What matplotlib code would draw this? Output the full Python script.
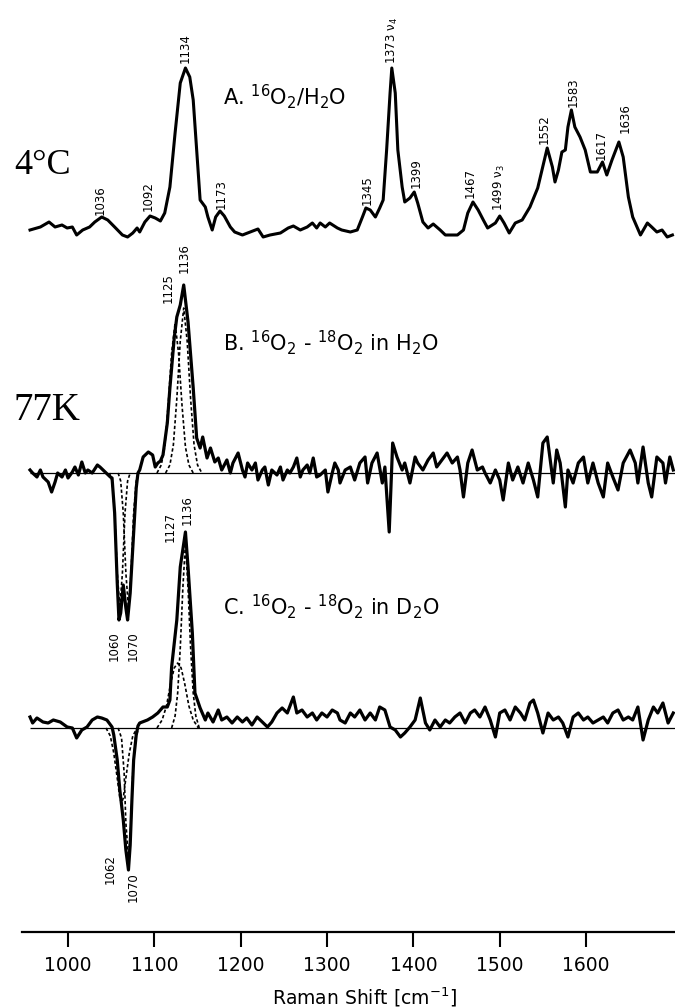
"""Raman spectra of 16O2/18O2 adducts: 4 C solution (A) and 77 K difference spectra (B, C)."""
import numpy as np
import matplotlib
matplotlib.use("Agg")
import matplotlib.pyplot as plt

plt.rcParams.update({"font.family": "DejaVu Sans", "mathtext.default": "regular"})

# ---- data (Raman shift in cm-1, intensity in arbitrary units) ----
spec_a = [(956, 10), (968, 13), (978, 18), (985, 13), (993, 15), (999, 12), (1005, 13), (1010, 5),
          (1017, 10), (1025, 13), (1031, 18), (1039, 23), (1046, 20), (1054, 13), (1063, 5), (1069, 3),
          (1075, 7), (1080, 12), (1083, 8), (1089, 18), (1095, 24), (1101, 22), (1107, 19), (1112, 27),
          (1118, 53), (1124, 107), (1130, 157), (1136, 172), (1141, 163), (1145, 140), (1149, 90),
          (1153, 40), (1159, 33), (1162, 23), (1167, 10), (1171, 23), (1176, 29), (1181, 24), (1188, 13),
          (1193, 8), (1202, 5), (1208, 7), (1220, 11), (1226, 3), (1234, 5), (1246, 7), (1255, 12),
          (1261, 14), (1269, 10), (1277, 13), (1283, 17), (1288, 12), (1292, 17), (1298, 13), (1303, 17),
          (1312, 12), (1317, 10), (1327, 8), (1335, 10), (1341, 23), (1345, 32), (1350, 30), (1356, 23),
          (1361, 32), (1365, 40), (1369, 90), (1373, 147), (1375, 172), (1379, 147), (1382, 90),
          (1387, 53), (1390, 38), (1396, 42), (1401, 48), (1405, 37), (1411, 18), (1417, 12), (1423, 16),
          (1431, 10), (1437, 5), (1451, 5), (1458, 10), (1463, 27), (1469, 38), (1475, 30), (1481, 20),
          (1486, 12), (1495, 17), (1500, 24), (1505, 17), (1511, 7), (1518, 17), (1526, 20), (1535, 33),
          (1544, 52), (1555, 92), (1561, 73), (1564, 58), (1568, 70), (1572, 88), (1576, 90), (1579, 113),
          (1583, 130), (1587, 113), (1593, 103), (1599, 90), (1605, 68), (1613, 68), (1619, 78),
          (1624, 65), (1630, 80), (1638, 98), (1643, 83), (1649, 43), (1654, 23), (1663, 5), (1671, 17),
          (1676, 13), (1682, 8), (1688, 10), (1694, 3), (1700, 5)]

spec_b = [(956, 3), (959, 0), (964, -4), (968, 3), (971, -4), (977, -9), (981, -19), (985, -9),
          (988, 0), (993, -4), (997, 3), (1000, -5), (1005, 1), (1008, 6), (1012, -2), (1016, 11),
          (1020, 0), (1023, 3), (1028, 0), (1034, 8), (1037, 6), (1043, 1), (1049, -4), (1051, -5),
          (1054, -40), (1057, -110), (1059, -147), (1061, -140), (1064, -112), (1067, -135),
          (1069, -147), (1072, -120), (1076, -60), (1079, -15), (1081, 0), (1083, 3), (1087, 16),
          (1093, 21), (1098, 18), (1101, 6), (1104, 10), (1107, 12), (1110, 18), (1115, 50), (1118, 85),
          (1123, 135), (1126, 156), (1130, 168), (1134, 188), (1139, 151), (1145, 85), (1149, 35),
          (1153, 25), (1156, 36), (1161, 15), (1165, 25), (1170, 11), (1174, 15), (1178, 3), (1184, 13),
          (1188, 0), (1191, 10), (1197, 20), (1202, 3), (1205, -4), (1208, 10), (1213, 3), (1217, 10),
          (1220, -7), (1225, 3), (1228, 6), (1232, -12), (1236, 3), (1242, -2), (1246, 6), (1249, -7),
          (1254, 3), (1257, 0), (1261, 6), (1265, 15), (1269, -4), (1272, 3), (1277, 8), (1280, 0),
          (1284, 15), (1288, -4), (1292, -2), (1298, 3), (1301, -19), (1306, 0), (1309, 10), (1313, 3),
          (1315, -10), (1321, 3), (1327, 6), (1332, -7), (1338, 10), (1344, 16), (1347, -10), (1352, 10),
          (1358, 20), (1364, -10), (1367, 6), (1372, -59), (1376, 30), (1381, 16), (1387, 3), (1390, 10),
          (1396, -10), (1402, 16), (1405, 10), (1411, 3), (1417, 13), (1423, 20), (1427, 6), (1433, 13),
          (1439, 20), (1445, 10), (1451, 16), (1454, 3), (1458, -24), (1463, 10), (1468, 23), (1474, 3),
          (1480, 6), (1483, 0), (1489, -10), (1495, 3), (1500, -7), (1504, -27), (1510, 10), (1515, -7),
          (1521, 6), (1527, -10), (1533, 10), (1539, -7), (1544, -24), (1550, 30), (1555, 36), (1558, 16),
          (1562, -10), (1566, 23), (1570, 10), (1576, -34), (1579, 3), (1585, -10), (1591, 10), (1597, 16),
          (1602, -10), (1608, 10), (1614, -10), (1620, -24), (1625, 10), (1631, -4), (1637, -17),
          (1643, 10), (1651, 23), (1657, 10), (1660, -10), (1666, 26), (1672, -10), (1676, -24),
          (1682, 16), (1689, 10), (1692, -10), (1697, 16), (1701, 3)]

spec_c = [(956, 11), (959, 5), (964, 10), (971, 6), (977, 5), (983, 8), (991, 6), (999, 1), (1005, 0),
          (1010, -10), (1016, -2), (1022, 1), (1028, 8), (1034, 11), (1039, 10), (1045, 8), (1051, 1),
          (1053, -7), (1057, -32), (1060, -62), (1064, -92), (1067, -122), (1070, -142), (1072, -117),
          (1074, -72), (1076, -32), (1079, -7), (1081, 2), (1083, 5), (1092, 8), (1098, 11), (1104, 15),
          (1110, 21), (1115, 21), (1118, 28), (1120, 61), (1126, 108), (1130, 161), (1136, 196),
          (1139, 161), (1144, 95), (1147, 35), (1153, 20), (1159, 8), (1162, 15), (1168, 6), (1174, 18),
          (1178, 8), (1184, 11), (1190, 5), (1196, 11), (1202, 6), (1207, 10), (1213, 3), (1219, 11),
          (1225, 6), (1231, 1), (1236, 6), (1242, 15), (1248, 20), (1254, 15), (1261, 31), (1265, 15),
          (1271, 18), (1277, 11), (1283, 15), (1288, 8), (1294, 15), (1300, 11), (1306, 18), (1312, 15),
          (1315, 8), (1321, 5), (1327, 15), (1332, 11), (1338, 18), (1344, 8), (1350, 15), (1356, 8),
          (1361, 21), (1367, 18), (1373, 1), (1379, -2), (1385, -9), (1390, -5), (1396, 1), (1402, 8),
          (1408, 30), (1414, 5), (1419, -2), (1425, 8), (1431, 1), (1437, 8), (1442, 5), (1448, 11),
          (1454, 15), (1460, 5), (1466, 15), (1471, 18), (1477, 11), (1483, 21), (1489, 8), (1495, -9),
          (1500, 15), (1506, 18), (1512, 8), (1518, 21), (1524, 15), (1529, 8), (1535, 25), (1539, 28),
          (1544, 15), (1550, -5), (1556, 15), (1562, 8), (1568, 11), (1573, 5), (1579, -9), (1585, 11),
          (1591, 15), (1597, 8), (1602, 11), (1608, 5), (1614, 8), (1620, 11), (1625, 5), (1631, 15),
          (1637, 18), (1643, 8), (1649, 11), (1654, 8), (1660, 21), (1666, -12), (1672, 8), (1678, 21),
          (1683, 15), (1689, 25), (1695, 5), (1701, 15)]

# fitted component bands (dashed)
bands_b = [
    [(1103, 0), (1108, 8), (1112, 26), (1116, 68), (1120, 120), (1124, 150), (1128, 120), (1132, 68),
     (1136, 26), (1140, 8), (1145, 0)],
    [(1113, 0), (1118, 8), (1122, 28), (1126, 74), (1130, 132), (1134, 165), (1138, 132), (1142, 74),
     (1146, 28), (1150, 8), (1155, 0)],
    [(1048, 0), (1051, -8), (1054, -40), (1057, -100), (1060, -135), (1063, -100), (1066, -40), (1069, -8), (1072, 0)],
    [(1058, 0), (1061, -8), (1064, -40), (1067, -100), (1070, -135), (1073, -100), (1076, -40), (1079, -8), (1082, 0)],
]
bands_c = [
    [(1103, 0), (1109, 8), (1114, 22), (1119, 45), (1123, 60), (1127, 65), (1131, 60), (1135, 45),
     (1140, 22), (1145, 8), (1151, 0)],
    [(1120, 0), (1124, 12), (1127, 35), (1130, 80), (1133, 140), (1136, 185), (1139, 140), (1142, 80),
     (1145, 35), (1148, 12), (1152, 0)],
    [(1044, 0), (1049, -8), (1053, -25), (1057, -50), (1060, -70), (1062, -75), (1064, -70), (1067, -50),
     (1071, -25), (1075, -8), (1080, 0)],
    [(1058, 0), (1062, -10), (1065, -45), (1067, -95), (1070, -130), (1073, -95), (1075, -45), (1078, -10), (1082, 0)],
]

peak_labels_a = ["1036", "1092", "1134", "1173", "1345", "1373 ν$_4$", "1399", "1467",
                 "1499 ν$_3$", "1552", "1583", "1617", "1636"]
peak_labels_b = ["1125", "1136", "1060", "1070"]
peak_labels_c = ["1127", "1136", "1062", "1070"]
xticks = [1000, 1100, 1200, 1300, 1400, 1500, 1600]

# vertical offsets of the three traces and label anchors (layout only)
OFF_A, OFF_B, OFF_C = 692, 459, 204
lab_pos_a = [(1037, 732), (1093, 736), (1136, 884), (1177, 738), (1346, 742), (1376, 892),
             (1403, 759), (1466, 749), (1500, 744), (1552, 803), (1585, 840), (1617, 787), (1645, 814)]
lab_pos_b = [(1116, 644), (1134, 674), (1053, 286), (1076, 286)]
lab_pos_c = [(1118, 405), (1138, 422), (1049, 63), (1075, 45)]

XMIN, XMAX = 946.7, 1703

fig = plt.figure(figsize=(6.75, 10.07), dpi=100)
ax = fig.add_axes([22 / 675, 75 / 1007, 653 / 675, 932 / 1007])
ax.set_xlim(XMIN, XMAX)
ax.set_ylim(0, 932)

a = np.array(spec_a, dtype=float)
ax.plot(a[:, 0], a[:, 1] + OFF_A, color="k", lw=2.2, solid_joinstyle="round")

for spec, bands, off in [(spec_b, bands_b, OFF_B), (spec_c, bands_c, OFF_C)]:
    s = np.array(spec, dtype=float)
    ax.hlines(off, s[0, 0], XMAX, color="k", lw=0.9)
    for band in bands:
        bd = np.array(band, dtype=float)
        ax.plot(bd[:, 0], bd[:, 1] + off, color="k", lw=1.2, ls=(0, (2, 1.4)))
    ax.plot(s[:, 0], s[:, 1] + off, color="k", lw=2.3, solid_joinstyle="round")

for labels, pos in [(peak_labels_a, lab_pos_a), (peak_labels_b, lab_pos_b), (peak_labels_c, lab_pos_c)]:
    for t, (x, y) in zip(labels, pos):
        ax.text(x, y, t, rotation=90, ha="center", va="center", fontsize=8.5)

ax.text(1180, 835, r"A. $^{16}$O$_2$/H$_2$O", fontsize=15, va="center", ha="left")
ax.text(1180, 589, r"B. $^{16}$O$_2$ - $^{18}$O$_2$ in H$_2$O", fontsize=15, va="center", ha="left")
ax.text(1180, 325, r"C. $^{16}$O$_2$ - $^{18}$O$_2$ in D$_2$O", fontsize=15, va="center", ha="left")
ax.text(970, 767, "4°C", fontsize=26, family="Liberation Serif", ha="center", va="center")
ax.text(976, 522, "77K", fontsize=28, family="Liberation Serif", ha="center", va="center")

for sp in ["left", "top", "right"]:
    ax.spines[sp].set_visible(False)
ax.spines["bottom"].set_linewidth(1.6)
ax.set_yticks([])
ax.set_xticks(xticks)
ax.tick_params(axis="x", direction="out", length=11, width=1.5, pad=6, labelsize=13.5)
fig.text(364 / 675, 1 - 997 / 1007, r"Raman Shift [cm$^{-1}$]", fontsize=13.5, ha="center", va="center")

fig.savefig("out.png", dpi=100)
